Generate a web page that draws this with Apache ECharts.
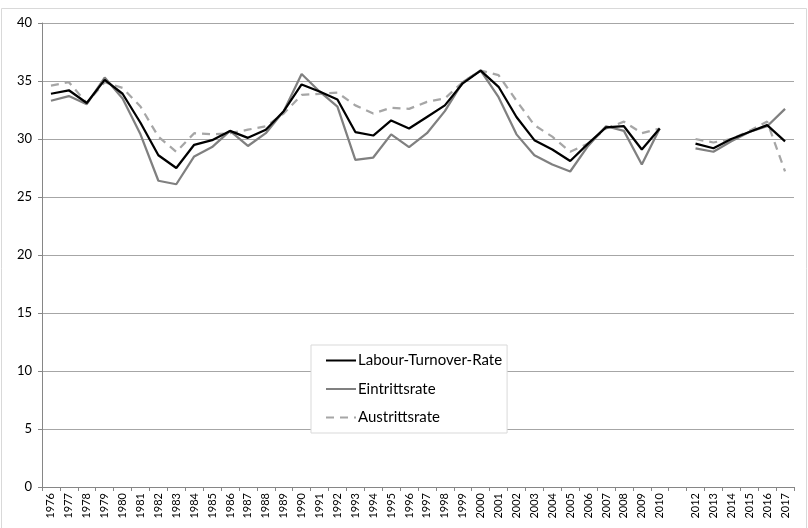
<!DOCTYPE html>
<html>
<head>
<meta charset="utf-8">
<script src="https://cdn.jsdelivr.net/npm/echarts@6/dist/echarts.min.js"></script>
<style>
html,body{margin:0;padding:0;background:#fff;}
#chart{width:808px;height:528px;}
</style>
</head>
<body>
<div id="chart"></div>
<script>
// Jahre (2011 ohne Wert und ohne Beschriftung)
var years = ['1976','1977','1978','1979','1980','1981','1982','1983','1984','1985',
	'1986','1987','1988','1989','1990','1991','1992','1993','1994','1995',
	'1996','1997','1998','1999','2000','2001','2002','2003','2004','2005',
	'2006','2007','2008','2009','2010','','2012','2013','2014','2015','2016','2017'];

var turnover = [33.9,34.2,33.1,35.1,33.9,31.4,28.6,27.5,29.5,29.9,
	30.7,30.1,30.8,32.4,34.7,34.1,33.4,30.6,30.3,31.6,
	30.9,31.9,32.9,34.8,35.9,34.5,31.9,29.9,29.1,28.1,
	29.6,31.0,31.1,29.1,30.9,null,29.6,29.2,30.0,30.6,31.2,29.8];

var eintritt = [33.3,33.7,33.0,35.3,33.5,30.4,26.4,26.1,28.5,29.3,
	30.7,29.4,30.5,32.4,35.6,34.1,32.8,28.2,28.4,30.4,
	29.3,30.5,32.4,34.9,35.9,33.6,30.4,28.6,27.8,27.2,
	29.4,31.1,30.7,27.8,30.9,null,29.2,28.9,29.8,30.6,31.1,32.6];

var austritt = [34.6,34.9,33.1,34.9,34.4,32.8,30.2,28.9,30.5,30.4,
	30.5,30.8,31.1,32.2,33.8,33.9,34.0,32.9,32.2,32.7,
	32.6,33.2,33.5,34.9,35.9,35.5,33.3,31.2,30.2,28.9,
	29.6,30.9,31.5,30.5,30.9,null,30.0,29.7,30.0,30.7,31.5,27.2];

var fontName = 'Lato';

var option = {
	animation: false,
	textStyle: {fontFamily: fontName},
	grid: {left: 42, right: 14, top: 23, bottom: 41},
	graphic: [{
		type: 'rect',
		shape: {x: 1.5, y: 8.5, width: 805, height: 530},
		style: {fill: null, stroke: '#d9d9d9', lineWidth: 1},
		silent: true
	}],
	legend: {
		orient: 'vertical',
		left: 311,
		top: 345,
		padding: [8, 5, 8, 14],
		itemWidth: 30,
		itemHeight: 16,
		itemGap: 13.5,
		itemStyle: {opacity: 0},
		backgroundColor: '#fff',
		borderColor: '#d9d9d9',
		borderWidth: 1,
		textStyle: {fontFamily: fontName, fontSize: 15, color: '#000', padding: [0, 0, 0, -3]},
		data: ['Labour-Turnover-Rate', 'Eintrittsrate', 'Austrittsrate']
	},
	xAxis: {
		type: 'category',
		data: years,
		boundaryGap: true,
		axisLine: {lineStyle: {color: '#868686', width: 1}},
		axisTick: {show: true, length: 4, lineStyle: {color: '#868686'}},
		axisLabel: {rotate: 90, interval: 0, fontSize: 11, color: '#000', margin: 6, fontFamily: fontName}
	},
	yAxis: {
		type: 'value',
		min: 0,
		max: 40,
		interval: 5,
		axisLine: {show: true, lineStyle: {color: '#868686', width: 1}},
		axisTick: {show: true, length: 4, lineStyle: {color: '#868686'}},
		axisLabel: {fontSize: 13, color: '#000', margin: 10, fontFamily: fontName},
		splitLine: {lineStyle: {color: '#a6a6a6', width: 1}}
	},
	series: [
		{
			name: 'Labour-Turnover-Rate',
			type: 'line',
			data: turnover,
			symbol: 'none',
			connectNulls: false,
			z: 4,
			itemStyle: {color: '#000'},
			lineStyle: {color: '#000', width: 2.25}
		},
		{
			name: 'Eintrittsrate',
			type: 'line',
			data: eintritt,
			symbol: 'none',
			connectNulls: false,
			z: 3,
			itemStyle: {color: '#808080'},
			lineStyle: {color: '#808080', width: 2.25}
		},
		{
			name: 'Austrittsrate',
			type: 'line',
			data: austritt,
			symbol: 'none',
			connectNulls: false,
			z: 2,
			itemStyle: {color: '#a6a6a6'},
			lineStyle: {color: '#a6a6a6', width: 2.25, type: [8, 6]}
		}
	]
};

var myChart = echarts.init(document.getElementById('chart'));
myChart.setOption(option);
</script>
</body>
</html>
